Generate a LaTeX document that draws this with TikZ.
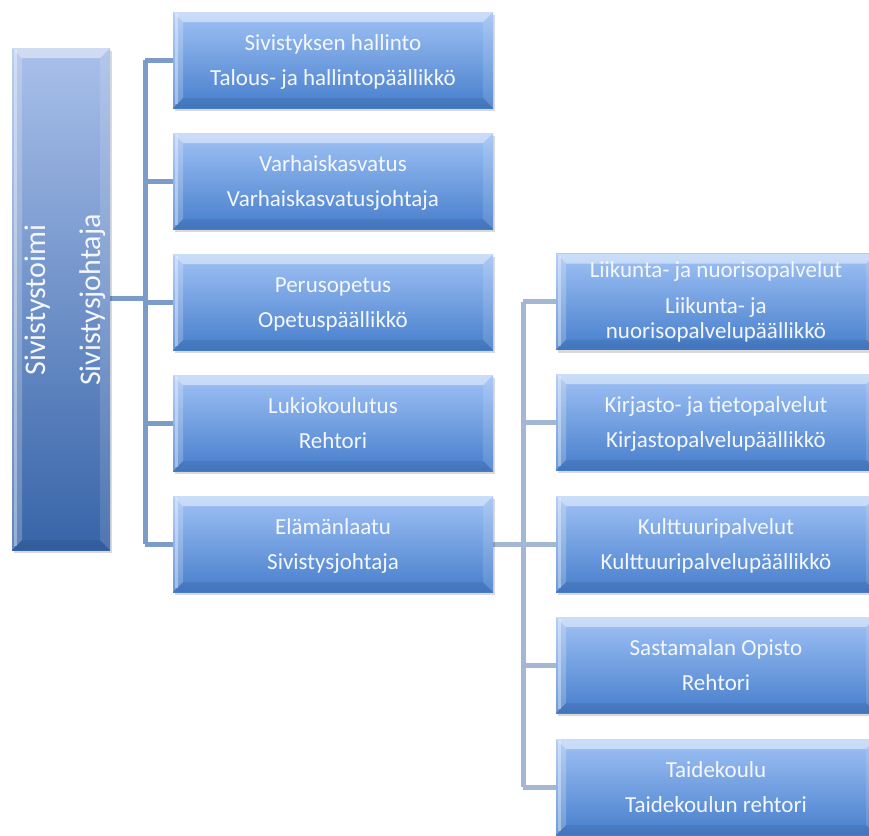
\documentclass[tikz,border=0pt]{standalone}
\usepackage{fontspec}
\setmainfont{Carlito}
\usetikzlibrary{shadows}
\definecolor{boxtop}{HTML}{A0C2F5}
\definecolor{boxbot}{HTML}{467ECC}
\definecolor{roottop}{HTML}{A9C0EA}
\definecolor{rootbot}{HTML}{3764A8}
\definecolor{connL}{HTML}{7B9BC9}
\definecolor{connR}{HTML}{A3B7D4}
\definecolor{txt}{HTML}{F4F7FC}
\tikzset{
  x=1pt, y=-1pt,
  bevel/.style={path picture={
    \fill[white,opacity=0.45] (path picture bounding box.north west) -- (path picture bounding box.north east)
      -- ([xshift=-#1,yshift=-#1]path picture bounding box.north east) -- ([xshift=#1,yshift=-#1]path picture bounding box.north west) -- cycle;
    \fill[white,opacity=0.22] (path picture bounding box.north west) -- ([xshift=#1,yshift=-#1]path picture bounding box.north west)
      -- ([xshift=#1,yshift=#1]path picture bounding box.south west) -- (path picture bounding box.south west) -- cycle;
    \fill[white,opacity=0.35] ([xshift=2pt,yshift=-2pt]path picture bounding box.north west) rectangle ([xshift=5pt,yshift=4pt]path picture bounding box.south west);
    \fill[white,opacity=0.12] (path picture bounding box.north east) -- ([xshift=-#1,yshift=-#1]path picture bounding box.north east)
      -- ([xshift=-#1,yshift=#1]path picture bounding box.south east) -- (path picture bounding box.south east) -- cycle;
    \fill[black,opacity=0.07] (path picture bounding box.south west) -- ([xshift=#1,yshift=#1]path picture bounding box.south west)
      -- ([xshift=-#1,yshift=#1]path picture bounding box.south east) -- (path picture bounding box.south east) -- cycle;
  }},
  orgbox/.style={rectangle, inner sep=0pt, minimum width=320pt, minimum height=96pt,
    top color=boxtop, bottom color=boxbot, bevel=10pt,
    drop shadow={shadow xshift=2pt, shadow yshift=-3pt, opacity=0.15, fill=black},
    text=txt, align=center, font=\fontsize{23}{35}\selectfont,
    text height=55pt, text depth=5pt},
  rootbox/.style={rectangle, inner sep=0pt, minimum width=98pt, minimum height=502pt,
    top color=roottop, bottom color=rootbot, bevel=10pt,
    drop shadow={shadow xshift=2pt, shadow yshift=-3pt, opacity=0.15, fill=black}},
  roottxt/.style={rotate=90, text=txt, align=center, font=\fontsize{30}{55}\selectfont,
    inner sep=0pt, text height=86pt, text depth=8pt},
  connl/.style={draw=connL, line width=5pt},
  connr/.style={draw=connR, line width=5pt},
}
\begin{document}
\begin{tikzpicture}
\useasboundingbox (0,0) rectangle (869,835);
\clip (0,0) rectangle (869,835);
\fill[white] (0,0) rectangle (869,835);

% coordinates of buses
\coordinate (busL) at (145,298);
\coordinate (busR) at (523,544);

% connectors (drawn first)
\coordinate (rootE) at (110,298);
\draw[connl] (rootE) -- (busL);
\draw[connl] (145,60) -- (145,544);
\foreach \yy in {60,181,302,423,544} \draw[connl] (145,\yy) -- (175,\yy);
\draw[connr] (493,544) -- (busR);
\draw[connr] (523,301.5) -- (523,787);
\foreach \yy in {301.5,422,544,665,787} \draw[connr] (523,\yy) -- (558,\yy);

% root
\node[rootbox] (root) at (61,299) {};
\node[roottxt] (roottext) at (61,300) {Sivistystoimi\\Sivistysjohtaja};

% middle column
\node[orgbox] (b1) at (333,60)  {Sivistyksen hallinto\\Talous- ja hallintopäällikkö};
\node[orgbox] (b2) at (333,181) {Varhaiskasvatus\\Varhaiskasvatusjohtaja};
\node[orgbox] (b3) at (333,302) {Perusopetus\\Opetuspäällikkö};
\node[orgbox] (b4) at (333,423) {Lukiokoulutus\\Rehtori};
\node[orgbox] (b5) at (333,544) {Elämänlaatu\\Sivistysjohtaja};

% right column
\node[orgbox, text height=78pt, text depth=5pt, font=\fontsize{23}{25}\selectfont] (r1) at (716,301.5)
  {Liikunta- ja nuorisopalvelut\\[11pt]Liikunta- ja\\nuorisopalvelupäällikkö};
\node[orgbox] (r2) at (716,422) {Kirjasto- ja tietopalvelut\\Kirjastopalvelupäällikkö};
\node[orgbox] (r3) at (716,544) {Kulttuuripalvelut\\Kulttuuripalvelupäällikkö};
\node[orgbox] (r4) at (716,665) {Sastamalan Opisto\\Rehtori};
\node[orgbox] (r5) at (716,787) {Taidekoulu\\Taidekoulun rehtori};
\end{tikzpicture}
\end{document}
